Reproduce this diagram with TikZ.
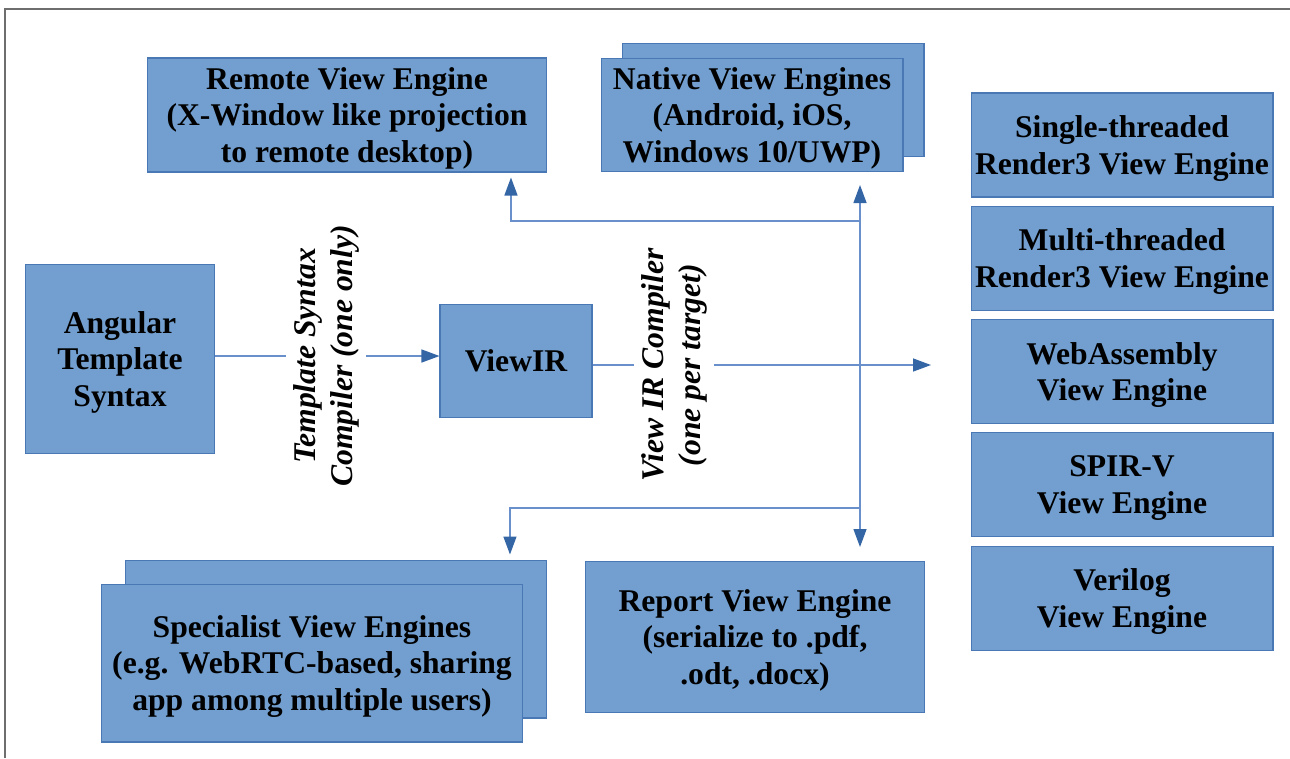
\documentclass[tikz,border=0pt]{standalone}
\usepackage{fontspec}
\setmainfont{Liberation Serif}
\usetikzlibrary{arrows.meta,positioning}

\definecolor{boxfill}{HTML}{729FCF}
\definecolor{boxline}{HTML}{4A78B4}
\definecolor{linkblue}{HTML}{6A90CC}
\definecolor{tipblue}{HTML}{3465A4}
\definecolor{framegray}{HTML}{6E6E6E}

\tikzset{
  engine/.style={rectangle, draw=boxline, fill=boxfill, line width=0.6pt, inner sep=0pt,
    text depth=0pt, align=center, font=\bfseries\fontsize{18}{21}\selectfont},
  backend/.style={engine, minimum width=6.04cm, minimum height=2.08cm},
  compiler/.style={rotate=90, inner sep=4pt, align=center,
    font=\bfseries\itshape\fontsize{18}{21}\selectfont},
  link/.style={draw=linkblue, line width=0.8pt},
  arrow/.style={link, -{Triangle[length=0.36cm, width=0.26cm, color=tipblue]}},
}

\begin{document}
\begin{tikzpicture}[x=0.02cm, y=-0.02cm]
  \useasboundingbox (0,0) rectangle (1290,758);
  \draw[framegray, line width=1.2pt] (5,758) -- (5,9) -- (1290,9);

  % source side
  \node (angular) [engine, minimum width=3.78cm, minimum height=3.78cm] at (120,359) {Angular\\Template\\Syntax};
  \node (viewir) [engine, minimum width=3.04cm, minimum height=2.26cm] at (516,361) {ViewIR};
  \node (tslabel) [compiler] at (326,356) {Template Syntax\\Compiler (one only)};
  \node (irlabel) [compiler] at (674,365) {View IR Compiler\\(one per target)};

  % view engines
  \node (remote) [engine, minimum width=8cm, minimum height=2.28cm] at (347,115) {Remote View Engine\\(X-Window like projection\\to remote desktop)};
  \node (nativeback) [engine, minimum width=6.04cm, minimum height=2.26cm] at (773,100) {};
  \node (native) [engine, minimum width=6.04cm, minimum height=2.26cm] at (752,115) {Native View Engines\\(Android, iOS,\\Windows 10/UWP)};
  \node (specback) [engine, minimum width=8.42cm, minimum height=3.16cm] at (336,639) {};
  \node (specialist) [engine, minimum width=8.42cm, minimum height=3.16cm] at (312,663) {Specialist View Engines\\(e.g. WebRTC-based, sharing\\app among multiple users)};
  \node (report) [engine, minimum width=6.78cm, minimum height=3.02cm] at (755,637) {Report View Engine\\(serialize to .pdf,\\.odt, .docx)};

  \node (single) [backend] at (1122,145) {Single-threaded\\Render3 View Engine};
  \node (multi) [backend, below=0.165cm of single] {Multi-threaded\\Render3 View Engine};
  \node (wasm) [backend, below=0.165cm of multi] {WebAssembly\\View Engine};
  \node (spirv) [backend, below=0.165cm of wasm] {SPIR-V\\View Engine};
  \node (verilog) [backend, below=0.165cm of spirv] {Verilog\\View Engine};

  % connectors
  \coordinate (targets) at (931,365);
  \coordinate (upbranch) at (860,221);
  \coordinate (downbranch) at (860,508);

  \draw[link] (angular.east |- tslabel) -- (tslabel);
  \draw[arrow] (tslabel) -- (tslabel -| viewir.west);
  \draw[link] (irlabel -| viewir.east) -- (irlabel);
  \draw[arrow] (irlabel) -- (targets);
  \draw[link] (upbranch) -- (downbranch);
  \draw[arrow, shorten >=0.26cm] (upbranch) -- (upbranch |- native.south);
  \draw[arrow, shorten >=0.1cm] (upbranch) -| ([xshift=3.28cm]remote.south);
  \draw[arrow, shorten >=0.28cm] (downbranch) -- (downbranch |- report.north);
  \draw[arrow, shorten >=0.1cm] (downbranch) -| ([xshift=3.48cm]specback.north);
\end{tikzpicture}
\end{document}
